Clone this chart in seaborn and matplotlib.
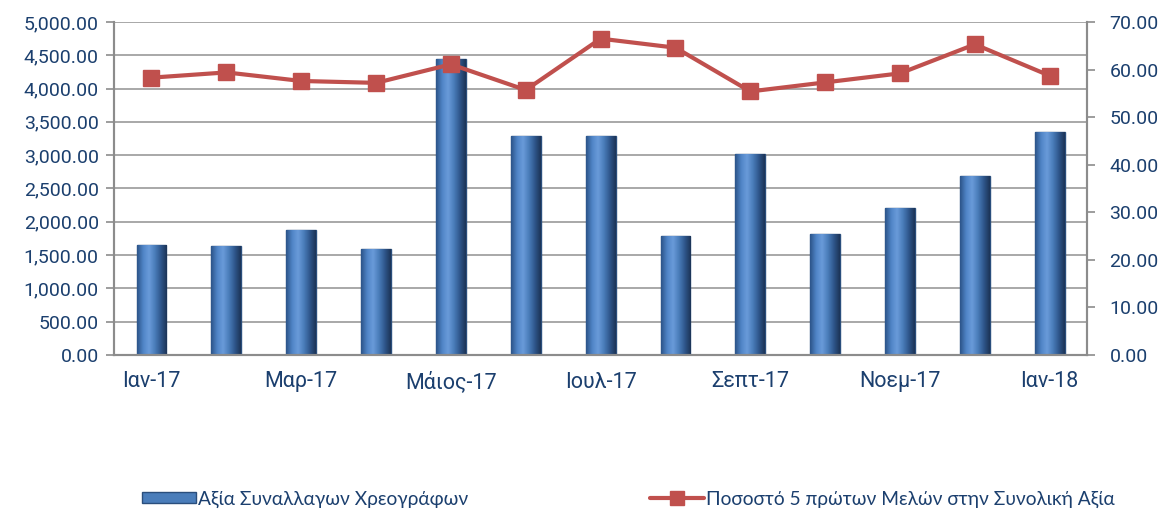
import matplotlib.pyplot as plt
import seaborn as sns
import pandas as pd
import numpy as np
from matplotlib.patches import Patch
from matplotlib.lines import Line2D
from matplotlib.colors import LinearSegmentedColormap
from matplotlib.ticker import FuncFormatter, MultipleLocator

# Dados
meses = ["Ιαν-17", "Φεβ-17", "Μαρ-17", "Απρ-17", "Μάιος-17", "Ιουν-17", "Ιουλ-17",
         "Αυγ-17", "Σεπτ-17", "Οκτ-17", "Νοεμ-17", "Δεκ-17", "Ιαν-18"]
axia = [1650, 1640, 1880, 1590, 4440, 3280, 3280, 1790, 3020, 1820, 2210, 2690, 3350]
pososto = [58.3, 59.4, 57.6, 57.2, 61.1, 55.7, 66.5, 64.6, 55.4, 57.3, 59.2, 65.3, 58.7]
tick_labels = ["Ιαν-17", "", "Μαρ-17", "", "Μάιος-17", "", "Ιουλ-17",
               "", "Σεπτ-17", "", "Νοεμ-17", "", "Ιαν-18"]

label_bar = "Αξία Συναλλαγων Χρεογράφων"
label_line = "Ποσοστό 5 πρώτων Μελών στην Συνολική Αξία"

df = pd.DataFrame({"Mes": meses, "Axia": axia, "Pososto": pososto})

sns.set_theme(style="white")
plt.rcParams["font.family"] = ["Roboto", "DejaVu Sans"]

txt = "#1B3F6E"
grid_c = "#9A9A9A"
bar_c = "#4A7DBA"
line_c = "#C0504D"

fig = plt.figure(figsize=(11.64, 5.12), dpi=100)
ax = fig.add_axes([0.098, 0.307, 0.836, 0.650])

sns.barplot(data=df, x="Mes", y="Axia", color=bar_c, width=0.4,
            edgecolor="#2A4E7C", linewidth=1.0, saturation=1, ax=ax, zorder=2)

# efeito de cilindro (gradiente horizontal nas barras)
cyl = LinearSegmentedColormap.from_list(
    "cyl", ["#2C5489", "#4F84C6", "#6A9BDA", "#4A7DBA", "#2F578C", "#1C3457"])
grad = np.linspace(0, 1, 64).reshape(1, -1)
for p in list(ax.patches):
    x0, y0 = p.get_x(), p.get_y()
    w, h = p.get_width(), p.get_height()
    im = ax.imshow(grad, cmap=cyl, aspect="auto", extent=[x0, x0 + w, y0, y0 + h],
                   zorder=2.5, interpolation="bicubic")
    im.set_clip_path(p)

ax.set_ylim(0, 5000)
ax.set_xlim(-0.5, len(meses) - 0.5)
ax.yaxis.set_major_locator(MultipleLocator(500))
ax.yaxis.set_major_formatter(FuncFormatter(lambda v, p: f"{v:,.2f}"))
ax.grid(axis="y", color=grid_c, linewidth=1.2, zorder=0)
ax.set_axisbelow(True)
ax.set_xlabel("")
ax.set_ylabel("")
ax.set_xticks(range(len(meses)))
ax.set_xticklabels(tick_labels)

ax2 = ax.twinx()
ax2.plot(range(len(meses)), pososto, color=line_c, linewidth=3, marker="s",
         markersize=12, zorder=3)
ax2.set_ylim(0, 70)
ax2.yaxis.set_major_locator(MultipleLocator(10))
ax2.yaxis.set_major_formatter(FuncFormatter(lambda v, p: f"{v:.2f}"))

for a in (ax, ax2):
    for s in a.spines.values():
        s.set_color("#8C8C8C")
        s.set_linewidth(1.5)
    a.spines["top"].set_visible(False)
    a.tick_params(axis="both", colors="#8C8C8C", labelcolor=txt, labelsize=14,
                  length=6, width=1.2)
ax.tick_params(axis="x", length=0, pad=12, labelsize=15.5)
ax2.tick_params(axis="y", pad=10)
ax.tick_params(axis="y", pad=5)

handles = [Patch(facecolor=bar_c, edgecolor="#2A4E7C"),
           Line2D([0], [0], color=line_c, linewidth=3, marker="s", markersize=10)]
fig.legend(handles, [label_bar, label_line], loc="lower center",
           bbox_to_anchor=(0.54, -0.025), ncol=2, frameon=False, columnspacing=9.5,
           handlelength=2.8, handleheight=0.5, handletextpad=0.1,
           prop={"family": ["Lato", "DejaVu Sans"], "size": 13.8}, labelcolor=txt)

plt.savefig("out.png", dpi=100)
